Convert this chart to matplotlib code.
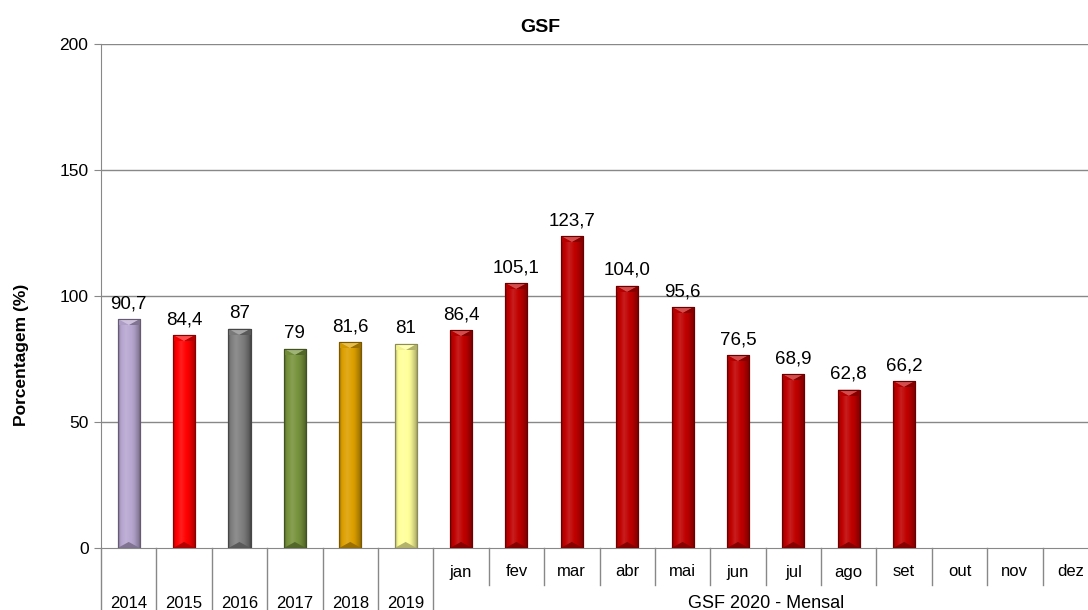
import numpy as np
import matplotlib
matplotlib.use("Agg")
import matplotlib.pyplot as plt
from matplotlib.colors import to_rgb
from matplotlib.patches import Polygon
import matplotlib.transforms as mtransforms

plt.rcParams['font.family'] = ['Liberation Sans', 'DejaVu Sans']

# ---- data ----
year_labels = ['2014', '2015', '2016', '2017', '2018', '2019']
year_values = [90.7, 84.4, 87, 79, 81.6, 81]
year_texts = ['90,7', '84,4', '87', '79', '81,6', '81']
year_colors = ['#B7A6D0', '#FF0000', '#808080', '#77933C', '#DDA000', '#FFFF99']

month_labels = ['jan', 'fev', 'mar', 'abr', 'mai', 'jun', 'jul', 'ago', 'set', 'out', 'nov', 'dez']
month_values = [86.4, 105.1, 123.7, 104.0, 95.6, 76.5, 68.9, 62.8, 66.2, None, None, None]
month_texts = ['86,4', '105,1', '123,7', '104,0', '95,6', '76,5', '68,9', '62,8', '66,2', '', '', '']
month_color = '#C00000'
group_label = 'GSF 2020 - Mensal'
yticks = [0, 50, 100, 150, 200]

W, H = 1088, 610
fig = plt.figure(figsize=(W / 100, H / 100), dpi=100)
ax_left, ax_right, ax_top, ax_bot = 101, 1098, 44, 548
ax = fig.add_axes([ax_left / W, 1 - ax_bot / H, (ax_right - ax_left) / W, (ax_bot - ax_top) / H])
ax.set_xlim(-0.5, 17.5)
ax.set_ylim(0, 200)

grid_c = '#888888'
for yv in yticks[1:]:
    ax.axhline(yv, color=grid_c, lw=1, zorder=0)
for s in ['top', 'right']:
    ax.spines[s].set_visible(False)
ax.spines['left'].set_color(grid_c)
ax.spines['bottom'].set_color(grid_c)
ax.set_yticks(yticks)
ax.tick_params(axis='y', colors=grid_c, length=5, labelsize=12.5, labelcolor='black', pad=4)
ax.set_xticks([])

all_vals = year_values + month_values
all_cols = year_colors + [month_color] * len(month_values)
all_texts = year_texts + month_texts
bw = 0.4


def shade(rgb, f):
    rgb = np.array(rgb)
    if f >= 0:
        return rgb + (1 - rgb) * f
    return rgb * (1 + f)


for i, (v, c, t) in enumerate(zip(all_vals, all_cols, all_texts)):
    if v is None:
        continue
    base = to_rgb(c)
    bars = ax.bar(i, v, width=bw, color=c, edgecolor=shade(base, -0.45), linewidth=0.8, zorder=2)
    patch = bars[0]
    xs = np.linspace(0, 1, 64)
    prof = np.interp(xs, [0, 0.1, 0.35, 0.7, 0.9, 1.0], [-0.35, -0.05, 0.12, -0.05, -0.25, -0.45])
    row = np.array([shade(base, f) for f in prof])
    img = np.clip(np.tile(row[None, :, :], (4, 1, 1)), 0, 1)
    im = ax.imshow(img, extent=(i - bw / 2, i + bw / 2, 0, v), aspect='auto', zorder=3, interpolation='bilinear')
    im.set_clip_path(patch)
    # top bevel
    d = 2.4
    ax.add_patch(Polygon([[i - bw / 2, v], [i + bw / 2, v], [i, v - d]], closed=True,
                         facecolor=shade(base, 0.3), edgecolor='none', zorder=4))
    ax.add_patch(Polygon([[i - bw / 2, v], [i - bw / 2, v - d], [i, v - d]], closed=True,
                         facecolor=shade(base, -0.05), edgecolor='none', zorder=4))
    ax.add_patch(Polygon([[i + bw / 2, v], [i + bw / 2, v - d], [i, v - d]], closed=True,
                         facecolor=shade(base, -0.3), edgecolor='none', zorder=4))
    # bottom bevel
    ax.add_patch(Polygon([[i - bw / 2, 0], [i + bw / 2, 0], [i, d]], closed=True,
                         facecolor=shade(base, -0.3), edgecolor='none', zorder=4))
    ax.plot([i - bw / 2, i + bw / 2, i + bw / 2, i - bw / 2, i - bw / 2], [0, 0, v, v, 0],
            color=shade(base, -0.45), lw=0.8, zorder=5)
    ax.annotate(t, (i, v), xytext=(0, 5), textcoords='offset points', ha='center', va='bottom',
                fontsize=13.5, zorder=5)

fig.text(22 / W, 1 - 355 / H, 'Porcentagem (%)', rotation=90, ha='center', va='center',
         fontsize=12.5, fontweight='bold')

# multi-level category axis
trans = mtransforms.blended_transform_factory(ax.transData, ax.transAxes)
ph = ax_bot - ax_top
full_y = -(H - ax_bot + 5) / ph
short_y = -(585 - ax_bot) / ph
n_year = len(year_labels)
n_all = n_year + len(month_labels)
for k in range(n_all + 1):
    x = k - 0.5
    y1 = full_y if (k <= n_year or k == n_all) else short_y
    ax.plot([x, x], [0, y1], transform=trans, color=grid_c, lw=1, clip_on=False)
for k, lab in enumerate(year_labels):
    ax.text(k, -(603 - ax_bot) / ph, lab, transform=trans, ha='center', va='center', fontsize=12)
for k, lab in enumerate(month_labels):
    ax.text(n_year + k, -(572 - ax_bot) / ph, lab, transform=trans, ha='center', va='center', fontsize=12)
ax.text(n_year + (len(month_labels) - 1) / 2, -(603 - ax_bot) / ph, group_label, transform=trans,
        ha='center', va='center', fontsize=13)

fig.text(540 / W, 1 - 28 / H, 'GSF', ha='center', va='center', fontsize=14, fontweight='bold')

fig.savefig('out.png', dpi=100)
